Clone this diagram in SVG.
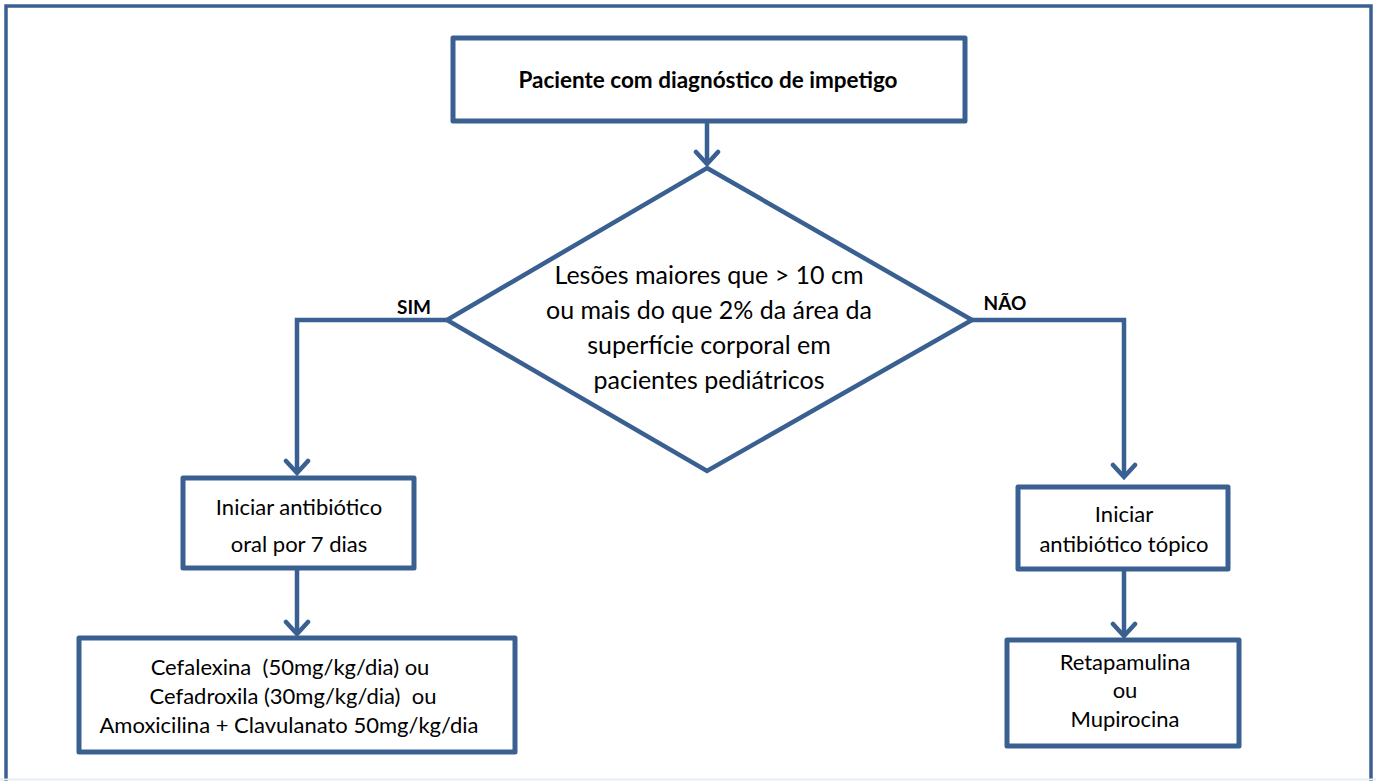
<svg xmlns="http://www.w3.org/2000/svg" width="1376" height="781" viewBox="0 0 1376 781">
<defs>
<style>
.box{fill:#fff;stroke:#3A5F91;stroke-width:5;stroke-linejoin:round}
.dia{fill:#fff;stroke:#3A5F91;stroke-width:4.5;stroke-linejoin:miter}
.con{fill:none;stroke:#3A5F91;stroke-width:4.5}
.t{font-family:Lato,"Liberation Sans",sans-serif;font-size:22px;fill:#000;text-anchor:middle;white-space:pre}
.d{font-size:25px}
.b{font-family:Lato,"Liberation Sans",sans-serif;font-size:19px;font-weight:bold;fill:#000;text-anchor:middle}
.h{font-size:22.5px}
</style>
<marker id="arr" markerUnits="userSpaceOnUse" markerWidth="30" markerHeight="30" refX="15" refY="15" orient="auto" viewBox="0 0 30 30">
<path d="M3,4 L15,15 L3,26" fill="none" stroke="#3A5F91" stroke-width="4.5" stroke-linecap="round" stroke-linejoin="miter"/>
</marker>
</defs>
<rect width="1376" height="781" fill="#fff"/>
<g id="frame">
<rect x="6" y="6" width="1365" height="800" fill="none" stroke="#3A5F91" stroke-width="3.5"/>
<line x1="0" y1="779.5" x2="1376" y2="779.5" stroke="#e6ecf4" stroke-width="2"/>
</g>
<g id="connectors">
<line class="con" x1="707" y1="121" x2="707" y2="164" marker-end="url(#arr)"/>
<polyline class="con" points="447,320 297,320 297,473" marker-end="url(#arr)"/>
<polyline class="con" points="972,320 1124,320 1124,477" marker-end="url(#arr)"/>
<line class="con" x1="297" y1="568" x2="297" y2="634" marker-end="url(#arr)"/>
<line class="con" x1="1124" y1="569" x2="1124" y2="636" marker-end="url(#arr)"/>
<text class="b" x="414" y="314">SIM</text>
<text class="b" x="1005" y="310">NÃO</text>
</g>
<g id="start">
<rect class="box" x="453" y="38" width="512" height="83"/>
<text class="b h" x="708" y="88">Paciente com diagnóstico de impetigo</text>
</g>
<g id="decision">
<polygon class="dia" points="707,168 972,320 707,471 447,320"/>
<text class="t d" x="709" y="284">Lesões maiores que &gt; 10 cm</text>
<text class="t d" x="709" y="319">ou mais do que 2% da área da</text>
<text class="t d" x="709" y="354">superfície corporal em</text>
<text class="t d" x="709" y="389">pacientes pediátricos</text>
</g>
<g id="oral">
<rect class="box" x="183" y="478" width="231" height="90"/>
<text class="t" x="299" y="515">Iniciar antibiótico</text>
<text class="t" x="299" y="552">oral por 7 dias</text>
</g>
<g id="oral-drugs">
<rect class="box" x="79" y="638" width="436" height="114"/>
<text class="t" x="290" y="675">Cefalexina  (50mg/kg/dia) ou</text>
<text class="t" x="293" y="704">Cefadroxila (30mg/kg/dia)  ou</text>
<text class="t" x="289" y="733">Amoxicilina + Clavulanato 50mg/kg/dia</text>
</g>
<g id="topical">
<rect class="box" x="1018" y="487" width="210" height="82"/>
<text class="t" x="1124" y="522">Iniciar</text>
<text class="t" x="1124" y="552">antibiótico tópico</text>
</g>
<g id="topical-drugs">
<rect class="box" x="1007" y="640" width="232" height="106"/>
<text class="t" x="1125" y="670">Retapamulina</text>
<text class="t" x="1125" y="698">ou</text>
<text class="t" x="1125" y="727">Mupirocina</text>
</g>
</svg>
